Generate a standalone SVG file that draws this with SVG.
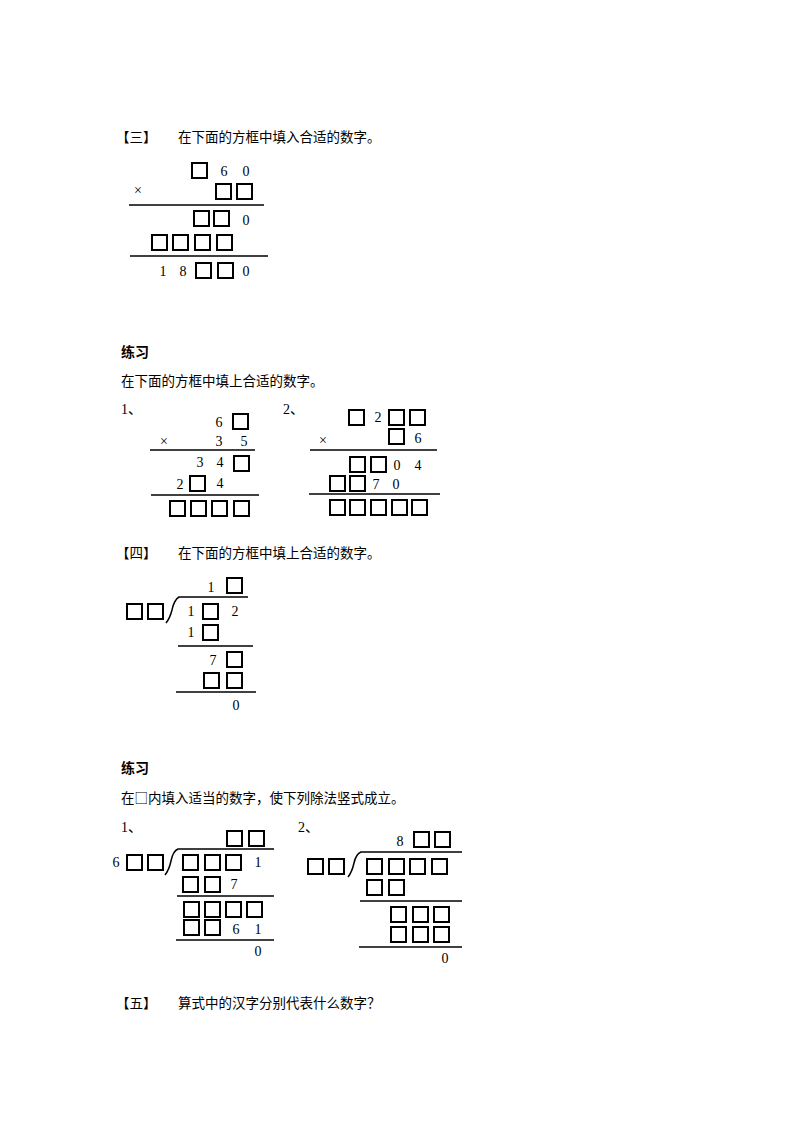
<svg xmlns="http://www.w3.org/2000/svg" width="800" height="1132" viewBox="0 0 800 1132">
<style>
.t{font-family:"Liberation Serif","Noto Sans CJK SC",serif;font-size:14px;fill:#000}
.c{font-family:"Noto Sans CJK SC",sans-serif;font-size:13.5px;fill:#000}
.b{font-family:"Noto Sans CJK SC",sans-serif;font-size:14px;font-weight:bold;fill:#000}
.n{font-family:"Liberation Serif",serif;font-size:14px;fill:#000;text-anchor:middle}
.bx{fill:none;stroke:#000;stroke-width:2}
.ln{stroke:#000;stroke-width:1.5;fill:none}
</style>
<rect width="800" height="1132" fill="#fff"/>
<g id="titles">
<text class="c" x="116" y="142">【三】</text><text class="c" x="178" y="142">在下面的方框中填入合适的数字。</text>
<text class="b" x="121" y="357">练习</text>
<text class="c" x="121" y="386">在下面的方框中填上合适的数字。</text>
<text class="t" x="121" y="414">1、</text><text class="t" x="283" y="414">2、</text>
<text class="c" x="116" y="558">【四】</text><text class="c" x="178" y="558">在下面的方框中填上合适的数字。</text>
<text class="b" x="121" y="773">练习</text>
<text class="c" x="121" y="803">在□内填入适当的数字，使下列除法竖式成立。</text>
<text class="t" x="121" y="832">1、</text><text class="t" x="298" y="832">2、</text>
<text class="c" x="116" y="1008">【五】</text><text class="c" x="178" y="1008">算式中的汉字分别代表什么数字？</text>
</g>
<g id="problem3">
<rect class="bx" x="192" y="163" width="15" height="15"/><text class="n" x="224" y="176">6</text><text class="n" x="246" y="176">0</text>
<text class="n" x="138" y="195">×</text>
<rect class="bx" x="216" y="184" width="15" height="15"/><rect class="bx" x="237" y="184" width="15" height="15"/>
<rect class="bx" x="194" y="211" width="15" height="15"/><rect class="bx" x="214" y="211" width="15" height="15"/><text class="n" x="246" y="225">0</text>
<rect class="bx" x="152" y="235" width="15" height="15"/><rect class="bx" x="173" y="235" width="15" height="15"/><rect class="bx" x="195" y="235" width="15" height="15"/><rect class="bx" x="217" y="235" width="15" height="15"/>
<text class="n" x="163" y="276">1</text><text class="n" x="183" y="276">8</text>
<rect class="bx" x="196" y="263" width="15" height="15"/><rect class="bx" x="218" y="263" width="15" height="15"/><text class="n" x="246" y="276">0</text>
</g>
<g id="practice1-1">
<text class="n" x="219" y="427">6</text><rect class="bx" x="233" y="414" width="15" height="15"/>
<text class="n" x="164" y="446">×</text><text class="n" x="219" y="446">3</text><text class="n" x="244" y="446">5</text>
<text class="n" x="200" y="467">3</text><text class="n" x="220" y="467">4</text><rect class="bx" x="234" y="456" width="15" height="15"/>
<text class="n" x="180" y="489">2</text><rect class="bx" x="190" y="476" width="15" height="15"/><text class="n" x="220" y="488">4</text>
<rect class="bx" x="170" y="501" width="15" height="15"/><rect class="bx" x="191" y="501" width="15" height="15"/><rect class="bx" x="212" y="501" width="15" height="15"/><rect class="bx" x="234" y="501" width="15" height="15"/>
</g>
<g id="practice1-2">
<rect class="bx" x="349" y="410" width="15" height="15"/><text class="n" x="378" y="422">2</text><rect class="bx" x="389" y="410" width="15" height="15"/><rect class="bx" x="410" y="410" width="15" height="15"/>
<text class="n" x="323" y="445">×</text><rect class="bx" x="389" y="429" width="15" height="15"/><text class="n" x="418" y="443">6</text>
<rect class="bx" x="350" y="457" width="15" height="15"/><rect class="bx" x="371" y="457" width="15" height="15"/><text class="n" x="397" y="470">0</text><text class="n" x="418" y="470">4</text>
<rect class="bx" x="330" y="476" width="15" height="15"/><rect class="bx" x="350" y="476" width="15" height="15"/><text class="n" x="376" y="489">7</text><text class="n" x="396" y="489">0</text>
<rect class="bx" x="330" y="500" width="15" height="15"/><rect class="bx" x="350" y="500" width="15" height="15"/><rect class="bx" x="371" y="500" width="15" height="15"/><rect class="bx" x="392" y="500" width="15" height="15"/><rect class="bx" x="412" y="500" width="15" height="15"/>
</g>
<g id="problem4">
<text class="n" x="211" y="592">1</text><rect class="bx" x="227" y="578" width="15" height="15"/>
<rect class="bx" x="127" y="604" width="15" height="15"/><rect class="bx" x="148" y="604" width="15" height="15"/>
<text class="n" x="191" y="616">1</text><rect class="bx" x="203" y="604" width="15" height="15"/><text class="n" x="235" y="616">2</text>
<text class="n" x="191" y="637">1</text><rect class="bx" x="203" y="625" width="15" height="15"/>
<text class="n" x="213" y="665">7</text><rect class="bx" x="227" y="652" width="15" height="15"/>
<rect class="bx" x="204" y="673" width="15" height="15"/><rect class="bx" x="227" y="673" width="15" height="15"/>
<text class="n" x="236" y="710">0</text>
</g>
<g id="practice2-1">
<rect class="bx" x="227" y="831" width="15" height="15"/><rect class="bx" x="249" y="831" width="15" height="15"/>
<text class="n" x="116" y="867">6</text><rect class="bx" x="127" y="855" width="15" height="15"/><rect class="bx" x="148" y="855" width="15" height="15"/>
<rect class="bx" x="183" y="855" width="15" height="15"/><rect class="bx" x="205" y="855" width="15" height="15"/><rect class="bx" x="226" y="855" width="15" height="15"/><text class="n" x="258" y="867">1</text>
<rect class="bx" x="183" y="877" width="15" height="15"/><rect class="bx" x="205" y="877" width="15" height="15"/><text class="n" x="234" y="889">7</text>
<rect class="bx" x="184" y="902" width="15" height="15"/><rect class="bx" x="205" y="902" width="15" height="15"/><rect class="bx" x="226" y="902" width="15" height="15"/><rect class="bx" x="247" y="902" width="15" height="15"/>
<rect class="bx" x="184" y="920" width="15" height="15"/><rect class="bx" x="205" y="920" width="15" height="15"/><text class="n" x="236" y="934">6</text><text class="n" x="258" y="934">1</text>
<text class="n" x="258" y="956">0</text>
</g>
<g id="practice2-2">
<text class="n" x="400" y="846">8</text><rect class="bx" x="414" y="832" width="15" height="15"/><rect class="bx" x="435" y="832" width="15" height="15"/>
<rect class="bx" x="308" y="859" width="15" height="15"/><rect class="bx" x="329" y="859" width="15" height="15"/>
<rect class="bx" x="367" y="859" width="15" height="15"/><rect class="bx" x="389" y="859" width="15" height="15"/><rect class="bx" x="410" y="859" width="15" height="15"/><rect class="bx" x="432" y="859" width="15" height="15"/>
<rect class="bx" x="367" y="880" width="15" height="15"/><rect class="bx" x="389" y="880" width="15" height="15"/>
<rect class="bx" x="391" y="907" width="15" height="15"/><rect class="bx" x="413" y="907" width="15" height="15"/><rect class="bx" x="434" y="907" width="15" height="15"/>
<rect class="bx" x="391" y="927" width="15" height="15"/><rect class="bx" x="413" y="927" width="15" height="15"/><rect class="bx" x="434" y="927" width="15" height="15"/>
<text class="n" x="445" y="963">0</text>
</g>
<g id="connectors">
<line class="ln" x1="129" y1="205" x2="264" y2="205"/>
<line class="ln" x1="130" y1="256" x2="268" y2="256"/>
<line class="ln" x1="150" y1="450" x2="255" y2="450"/>
<line class="ln" x1="151" y1="495" x2="259" y2="495"/>
<line class="ln" x1="310" y1="450" x2="437" y2="450"/>
<line class="ln" x1="309" y1="494" x2="440" y2="494"/>
<path class="ln" d="M166,623 Q170,618 172,610 Q174,600 179,597 L248,597"/>
<line class="ln" x1="178" y1="646" x2="253" y2="646"/>
<line class="ln" x1="176" y1="692" x2="256" y2="692"/>
<path class="ln" d="M165,875 Q169,870 171,861 Q173,851 178,849 L274,849"/>
<line class="ln" x1="177" y1="896" x2="274" y2="896"/>
<line class="ln" x1="176" y1="940" x2="274" y2="940"/>
<path class="ln" d="M348,877 Q352,872 354,863 Q356,854 361,852 L462,852"/>
<line class="ln" x1="360" y1="901" x2="462" y2="901"/>
<line class="ln" x1="359" y1="947" x2="462" y2="947"/>
</g>
</svg>
